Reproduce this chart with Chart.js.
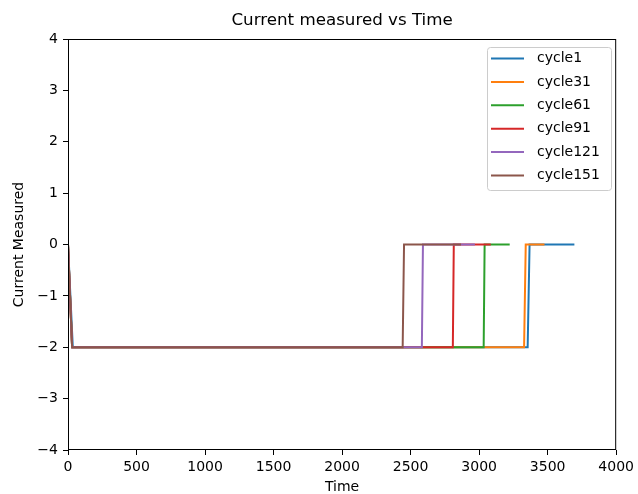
<!DOCTYPE html>
<html>
<head>
<meta charset="utf-8">
<script src="https://cdn.jsdelivr.net/npm/chart.js@4.4.0/dist/chart.umd.min.js"></script>
<style>
  html, body { margin: 0; padding: 0; background: #fff; }
  #wrap { width: 638px; height: 494px; }
</style>
</head>
<body>
<div id="wrap"><canvas id="chart" width="638" height="494"></canvas></div>
<script>
// series names and colours (matplotlib tab10)
const cycleNames = ['cycle1', 'cycle31', 'cycle61', 'cycle91', 'cycle121', 'cycle151'];
const cycleColors = ['#1f77b4', '#ff7f0e', '#2ca02c', '#d62728', '#9467bd', '#8c564b'];

// time / current pairs
const cycle1Time = [0, 35, 3354, 3368, 3695];
const cycle1Current = [0, -2, -2, 0, 0];
const cycle31Time = [0, 30, 3328, 3340, 3477];
const cycle31Current = [0, -2, -2, 0, 0];
const cycle61Time = [0, 30, 3033, 3040, 3223];
const cycle61Current = [0, -2, -2, 0, 0];
const cycle91Time = [0, 30, 2808, 2815, 3085];
const cycle91Current = [0, -2, -2, 0, 0];
const cycle121Time = [0, 30, 2582, 2590, 2969];
const cycle121Current = [0, -2, -2, 0, 0];
const cycle151Time = [0, 30, 2442, 2452, 2868];
const cycle151Current = [0, -2, -2, 0, 0];

const xTicks = [0, 500, 1000, 1500, 2000, 2500, 3000, 3500, 4000];
const yTicks = [-4, -3, -2, -1, 0, 1, 2, 3, 4];

const times = [cycle1Time, cycle31Time, cycle61Time, cycle91Time, cycle121Time, cycle151Time];
const currents = [cycle1Current, cycle31Current, cycle61Current, cycle91Current, cycle121Current, cycle151Current];

const datasets = cycleNames.map((name, i) => ({
    label: name,
    data: times[i].map((t, j) => ({ x: t, y: currents[i][j] })),
    borderColor: cycleColors[i],
    backgroundColor: cycleColors[i],
    borderWidth: 2,
    pointRadius: 0,
    tension: 0,
    fill: false,
    order: -i  // later cycles on top, like matplotlib
}));

const FONT = "'DejaVu Sans', sans-serif";

// frame, title, axis titles and legend drawn like matplotlib
const mplDecor = {
    id: 'mplDecor',
    afterDraw(chart) {
        const { ctx, chartArea: a } = chart;
        ctx.save();
        ctx.strokeStyle = '#000';
        ctx.lineWidth = 1;
        ctx.strokeRect(a.left + 0.5, a.top + 0.5, a.right - a.left - 1, a.bottom - a.top - 1);

        ctx.fillStyle = '#000';
        ctx.textAlign = 'center';
        ctx.textBaseline = 'middle';
        ctx.font = '16.7px ' + FONT;
        ctx.fillText('Current measured vs Time', (a.left + a.right) / 2, 21);

        ctx.font = '14px ' + FONT;
        ctx.fillText('Time', (a.left + a.right) / 2, 487);
        ctx.save();
        ctx.translate(19, (a.top + a.bottom) / 2);
        ctx.rotate(-Math.PI / 2);
        ctx.fillText('Current Measured', 0, 0);
        ctx.restore();

        // legend box
        const bx = 487, by = 47, bw = 124, bh = 143;
        ctx.beginPath();
        ctx.roundRect(bx + 0.5, by + 0.5, bw, bh, 3);
        ctx.fillStyle = 'rgba(255,255,255,0.8)';
        ctx.fill();
        ctx.strokeStyle = '#cccccc';
        ctx.lineWidth = 1;
        ctx.stroke();
        ctx.font = '14px ' + FONT;
        ctx.textAlign = 'left';
        chart.data.datasets.forEach((ds, i) => {
            const y = 58.5 + i * 23.4;
            ctx.strokeStyle = ds.borderColor;
            ctx.lineWidth = 2;
            ctx.beginPath();
            ctx.moveTo(491, y);
            ctx.lineTo(524, y);
            ctx.stroke();
            ctx.fillStyle = '#000';
            ctx.fillText(ds.label, 537, y);
        });
        ctx.restore();
    }
};

new Chart(document.getElementById('chart'), {
    type: 'line',
    data: { datasets },
    options: {
        responsive: false,
        animation: false,
        layout: { padding: { top: 39, right: 19, left: 0, bottom: 0 } },
        plugins: {
            legend: { display: false },
            tooltip: { enabled: false },
            title: { display: false }
        },
        scales: {
            x: {
                type: 'linear',
                min: 0,
                max: 4000,
                afterBuildTicks: s => { s.ticks = xTicks.map(v => ({ value: v })); },
                afterFit: s => { s.height = 44; },
                grid: { drawOnChartArea: false, drawTicks: true, tickLength: 5, color: '#000' },
                border: { display: false },
                ticks: { color: '#000', font: { family: FONT, size: 14 }, padding: 4, maxRotation: 0, callback: v => String(v) }
            },
            y: {
                type: 'linear',
                min: -4,
                max: 4,
                afterBuildTicks: s => { s.ticks = yTicks.map(v => ({ value: v })); },
                afterFit: s => { s.width = 68; },
                grid: { drawOnChartArea: false, drawTicks: true, tickLength: 5, color: '#000' },
                border: { display: false },
                ticks: {
                    color: '#000',
                    font: { family: FONT, size: 14 },
                    padding: 5,
                    callback: v => String(v).replace('-', '\u2212')
                }
            }
        }
    },
    plugins: [mplDecor]
});
</script>
</body>
</html>
